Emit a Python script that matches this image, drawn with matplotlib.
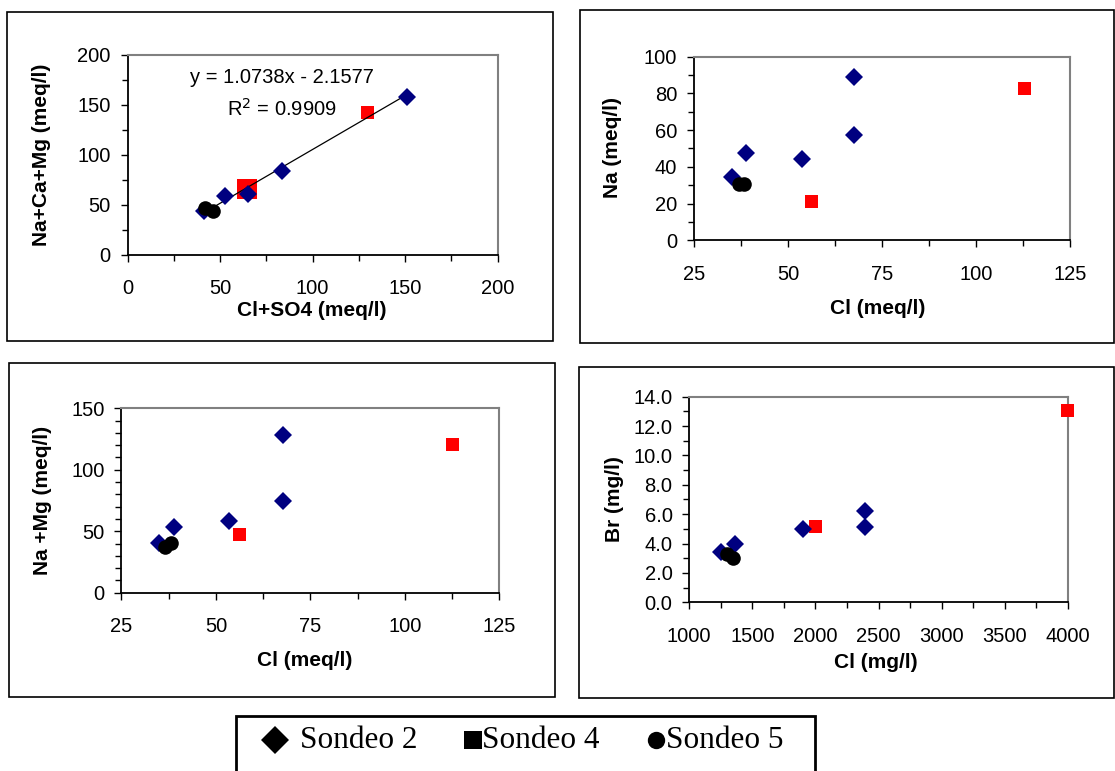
import matplotlib
matplotlib.use("Agg")
import matplotlib.pyplot as plt
from matplotlib.patches import Rectangle
from matplotlib.lines import Line2D
from matplotlib.ticker import MultipleLocator, FormatStrFormatter

plt.rcParams['font.family'] = ['Liberation Sans', 'DejaVu Sans']

W, H = 1115, 771

# Cl+SO4 vs Na+Ca+Mg (meq/l)
a_s2_x = [41.5, 52.7, 64.9, 83.4, 151.2]
a_s2_y = [44.2, 58.8, 60.5, 84.0, 157.8]
a_s4_x = [64.6, 129.5]
a_s4_y = [65.8, 141.9]
a_s5_x = [41.7, 46.3]
a_s5_y = [46.5, 44.2]
fit_slope, fit_icpt, fit_r2 = 1.0738, -2.1577, 0.9909

# Cl vs Na (meq/l)
b_s2_x = [35.0, 38.7, 53.7, 67.5, 67.5]
b_s2_y = [34.7, 47.7, 44.5, 89.1, 57.5]
b_s4_x = [56.3, 112.8]
b_s4_y = [20.9, 82.6]
b_s5_x = [37.0, 38.2]
b_s5_y = [30.5, 30.5]

# Cl vs Na+Mg (meq/l)
c_s2_x = [34.9, 38.9, 53.6, 67.8, 67.8]
c_s2_y = [40.7, 53.4, 58.6, 128.3, 74.9]
c_s4_x = [56.2, 112.7]
c_s4_y = [47.5, 120.7]
c_s5_x = [36.6, 38.0]
c_s5_y = [36.9, 40.7]

# Cl vs Br (mg/l)
d_s2_x = [1248, 1366, 1903, 2393, 2393]
d_s2_y = [3.40, 3.95, 5.01, 6.24, 5.13]
d_s4_x = [2002, 3997]
d_s4_y = [5.15, 13.05]
d_s5_x = [1297, 1344]
d_s5_y = [3.29, 3.00]

NAVY, RED = '#000080', '#ff0000'

fig = plt.figure(figsize=(W / 100, H / 100), dpi=100)


def frame(l, t, r, b, lw=1.2):
    fig.add_artist(Rectangle((l / W, 1 - b / H), (r - l) / W, (b - t) / H,
                             transform=fig.transFigure, fill=False,
                             ec='black', lw=lw))


def make_axes(l, t, r, b):
    ax = fig.add_axes([l / W, 1 - b / H, (r - l) / W, (b - t) / H])
    for s in ('top', 'right'):
        ax.spines[s].set_color('#808080')
        ax.spines[s].set_linewidth(1.5)
    for s in ('left', 'bottom'):
        ax.spines[s].set_linewidth(1.3)
    ax.tick_params(which='both', direction='out', width=1.0, top=False, right=False)
    ax.tick_params(which='major', length=5, labelsize=14.5)
    ax.tick_params(which='minor', length=4)
    ax.tick_params(axis='x', which='major', pad=12.5)
    ax.tick_params(axis='y', which='major', pad=7)
    return ax


def scatter_sets(ax, s2, s4, s5, sq_sizes=None):
    # squares may carry a size per point
    if sq_sizes is None:
        sq_sizes = [9.4] * len(s4[0])
    ax.scatter(s4[0], s4[1], marker='s', s=[v ** 2 for v in sq_sizes], c=RED,
               linewidths=0, zorder=3, clip_on=False)
    ax.plot(*s2, ls='none', marker='D', ms=8.8, mfc=NAVY, mec=NAVY, mew=0, zorder=4, clip_on=False)
    ax.plot(*s5, ls='none', marker='o', ms=10.5, mfc='black', mec='black', mew=0, zorder=5, clip_on=False)


def labels(xl, xy, yl, yx, ytxt, xtxt):
    fig.text(xl / W, 1 - xy / H, xtxt, ha='center', va='center',
             fontsize=15, fontweight='bold')
    fig.text(yx / W, 1 - yl / H, ytxt, ha='center', va='center',
             fontsize=15, fontweight='bold', rotation=90)


# panel frames
frame(7, 12, 553, 341)
frame(580, 10, 1114, 343)
frame(9, 363, 555, 697)
frame(579, 367, 1114, 698)

# Na+Ca+Mg vs Cl+SO4 with linear fit
ax1 = make_axes(127.5, 54.5, 497.5, 255)
scatter_sets(ax1, (a_s2_x, a_s2_y), (a_s4_x, a_s4_y), (a_s5_x, a_s5_y), sq_sizes=[14.4, 9.4])
all_x = a_s2_x + a_s4_x + a_s5_x
fx = [min(all_x), max(all_x)]
ax1.plot(fx, [fit_slope * v + fit_icpt for v in fx], color='black', lw=0.9, zorder=3.5)
ax1.set_xlim(0, 200)
ax1.set_ylim(0, 200)
ax1.xaxis.set_major_locator(MultipleLocator(50))
ax1.xaxis.set_minor_locator(MultipleLocator(25))
ax1.yaxis.set_major_locator(MultipleLocator(50))
ax1.yaxis.set_minor_locator(MultipleLocator(25))
sign = '-' if fit_icpt < 0 else '+'
ax1.text(0.418, 0.885, f'y = {fit_slope:.4f}x {sign} {abs(fit_icpt):.4f}',
         transform=ax1.transAxes, ha='center', va='center', fontsize=14.5)
ax1.text(0.418, 0.728, f'R$^{{2}}$ = {fit_r2:.4f}', transform=ax1.transAxes,
         ha='center', va='center', fontsize=14.5)
labels(312, 310, 155, 42, 'Na+Ca+Mg (meq/l)', 'Cl+SO4 (meq/l)')

# Na vs Cl
ax2 = make_axes(694, 56.7, 1070, 240.3)
scatter_sets(ax2, (b_s2_x, b_s2_y), (b_s4_x, b_s4_y), (b_s5_x, b_s5_y))
ax2.set_xlim(25, 125)
ax2.set_ylim(0, 100)
ax2.xaxis.set_major_locator(MultipleLocator(25))
ax2.xaxis.set_minor_locator(MultipleLocator(12.5))
ax2.yaxis.set_major_locator(MultipleLocator(20))
ax2.yaxis.set_minor_locator(MultipleLocator(10))
labels(878, 308, 148, 613, 'Na (meq/l)', 'Cl (meq/l)')

# Na+Mg vs Cl
ax3 = make_axes(121.4, 408.3, 499.3, 592.7)
scatter_sets(ax3, (c_s2_x, c_s2_y), (c_s4_x, c_s4_y), (c_s5_x, c_s5_y))
ax3.set_xlim(25, 125)
ax3.set_ylim(0, 150)
ax3.xaxis.set_major_locator(MultipleLocator(25))
ax3.xaxis.set_minor_locator(MultipleLocator(12.5))
ax3.yaxis.set_major_locator(MultipleLocator(50))
ax3.yaxis.set_minor_locator(MultipleLocator(10))
labels(305, 661, 500, 43, 'Na +Mg (meq/l)', 'Cl (meq/l)')

# Br vs Cl
ax4 = make_axes(689.2, 396.7, 1068, 602.3)
scatter_sets(ax4, (d_s2_x, d_s2_y), (d_s4_x, d_s4_y), (d_s5_x, d_s5_y))
ax4.set_xlim(1000, 4000)
ax4.set_ylim(0, 14)
ax4.xaxis.set_major_locator(MultipleLocator(500))
ax4.xaxis.set_minor_locator(MultipleLocator(250))
ax4.yaxis.set_major_locator(MultipleLocator(2))
ax4.yaxis.set_minor_locator(MultipleLocator(1))
ax4.yaxis.set_major_formatter(FormatStrFormatter('%.1f'))
labels(876, 662, 499, 614.5, 'Br (mg/l)', 'Cl (mg/l)')

# shared legend box at the bottom
fig.add_artist(Rectangle((236 / W, -0.05), (815 - 236) / W, 0.05 + 1 - 716 / H,
                         transform=fig.transFigure, fill=False, ec='black', lw=2))
legend_items = [('D', 14.5, 275, 300, 'Sondeo 2'),
                ('s', 13.0, 472.5, 482, 'Sondeo 4'),
                ('o', 12.5, 656, 666, 'Sondeo 5')]
ly = 739.5
for mk, ms, mx, tx, txt in legend_items:
    fig.add_artist(Line2D([mx / W], [1 - ly / H], transform=fig.transFigure,
                          marker=mk, ms=ms, mfc='black', mec='black', mew=0, ls='none'))
    fig.text(tx / W, 1 - (ly + 1) / H, txt, ha='left', va='center', fontsize=22.5,
             family=['Liberation Serif', 'DejaVu Serif'])

fig.savefig('out.png', dpi=100, facecolor='white')
